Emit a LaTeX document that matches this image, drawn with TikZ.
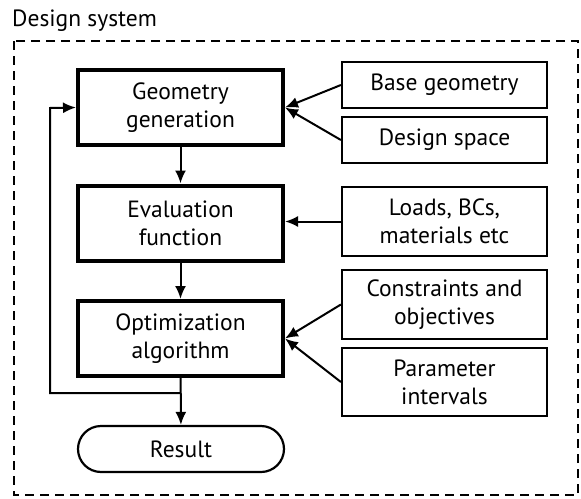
\documentclass[tikz,border=0pt]{standalone}
\usepackage{fontspec}
\setmainfont{PT Sans}
\usetikzlibrary{arrows.meta}

\begin{document}
\begin{tikzpicture}[x=1pt,y=-1pt,font=\fontsize{23.5}{28}\selectfont,
  step box/.style={draw,line width=4pt,minimum width=205pt,minimum height=75pt,align=center,inner sep=0pt},
  input box/.style={draw,line width=2.2pt,minimum width=205pt,align=center,inner sep=0pt},
  arr/.style={line width=2pt,-{Latex[length=13pt,width=11pt]}}]
  \useasboundingbox (0,0) rectangle (581,498);
  \node[anchor=west,inner sep=0pt] (title) at (12,21) {Design system};
  \draw[line width=2.2pt,dash pattern=on 9pt off 6pt] (14,41) rectangle (578,495);

  \node[step box] (geo) at (180.5,107.5) {Geometry\\generation};
  \node[step box] (eva) at (180.5,223) {Evaluation\\function};
  \node[step box] (opt) at (180.5,338.5) {Optimization\\algorithm};
  \node[draw,line width=2.2pt,rounded corners=23pt,minimum width=206pt,minimum height=46pt,inner sep=0pt] (res) at (181,449) {Result};

  \node[input box,minimum height=46pt] (base) at (444.5,85) {Base geometry};
  \node[input box,minimum height=46pt] (space) at (444.5,140) {Design space};
  \node[input box,minimum height=69pt] (loads) at (444.5,221.5) {Loads, BCs,\\materials etc};
  \node[input box,minimum height=69pt] (cons) at (444.5,304.5) {Constraints and\\objectives};
  \node[input box,minimum height=68pt] (par) at (444.5,382) {Parameter\\intervals};

  \draw[arr] (geo) -- (eva);
  \draw[arr] (eva) -- (opt);
  \draw[arr] (opt) -- (res);
  \coordinate (split) at (180.5,393);
  \draw[arr] (split) -| (50,108) -- (geo.west);

  \draw[arr] (base.west) -- (geo.east);
  \draw[arr] (space.west) -- (geo.east);
  \draw[arr] (loads.west) -- (loads.west -| eva.east);
  \draw[arr] (cons.west) -- (opt.east);
  \draw[arr] (par.west) -- (opt.east);
\end{tikzpicture}
\end{document}
